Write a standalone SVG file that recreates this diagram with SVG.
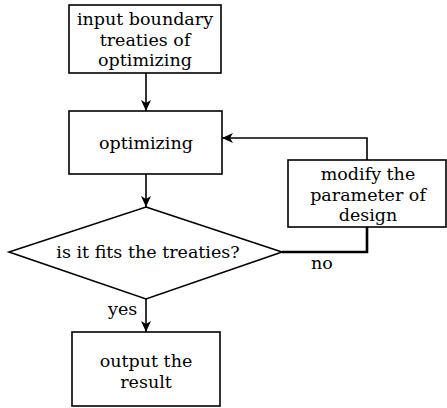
<svg xmlns="http://www.w3.org/2000/svg" width="447" height="408" viewBox="0 0 447 408">
<style>
.box{fill:#fff;stroke:#000;stroke-width:1.6}
.t{font-family:"DejaVu Serif","Liberation Serif",serif;font-size:17.5px;fill:#000;text-anchor:middle}
.lbl{font-family:"DejaVu Serif","Liberation Serif",serif;font-size:17.5px;fill:#000}
.c{fill:none;stroke:#000;stroke-width:1.6}
</style>
<defs>
<marker id="ah" markerWidth="12" markerHeight="10" refX="11" refY="5" orient="auto" markerUnits="userSpaceOnUse">
<path d="M0,0 L11,5 L0,10 L3,5 z" fill="#000"/>
</marker>
</defs>
<rect width="447" height="408" fill="#fff"/>
<g id="connectors">
<line class="c" x1="146" y1="73" x2="146" y2="111" marker-end="url(#ah)"/>
<line class="c" x1="146" y1="174" x2="146" y2="207" marker-end="url(#ah)"/>
<line class="c" x1="146" y1="299" x2="146" y2="332" marker-end="url(#ah)"/>
<polyline class="c" points="367,160 367,138 222,138" marker-end="url(#ah)"/>
<polyline class="c" points="282,252 367,252 367,227" style="stroke-width:2.6"/>
<text class="lbl" x="108" y="315">yes</text>
<text class="lbl" x="311" y="269">no</text>
</g>
<g id="input">
<rect class="box" x="69" y="5" width="152" height="68"/>
<text class="t" x="145" y="25">input boundary</text>
<text class="t" x="145" y="45.5">treaties of</text>
<text class="t" x="145" y="66">optimizing</text>
</g>
<g id="optimizing">
<rect class="box" x="69" y="111" width="153" height="63"/>
<text class="t" x="146" y="149">optimizing</text>
</g>
<g id="decision">
<polygon class="box" points="146,207 282,252 146,299 9,252"/>
<text class="t" x="148" y="258">is it fits the treaties?</text>
</g>
<g id="modify">
<rect class="box" x="288" y="160" width="158" height="67"/>
<text class="t" x="368" y="180">modify the</text>
<text class="t" x="368" y="200.5">parameter of</text>
<text class="t" x="368" y="221">design</text>
</g>
<g id="output">
<rect class="box" x="72" y="332" width="148" height="74"/>
<text class="t" x="146" y="367">output the</text>
<text class="t" x="146" y="387.5">result</text>
</g>
</svg>
